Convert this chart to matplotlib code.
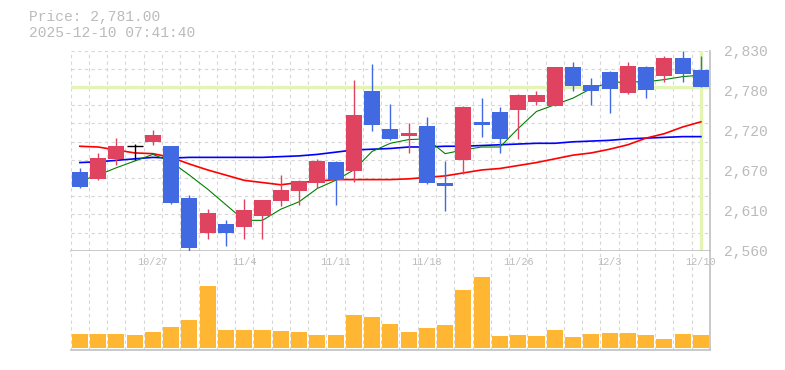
import numpy as np
import matplotlib.pyplot as plt
from matplotlib.transforms import blended_transform_factory

plt.rcParams["font.family"] = ["Liberation Mono", "DejaVu Sans Mono"]

# 日足データ (10/21 - 12/10)
dates = ["10/21", "10/22", "10/23", "10/24", "10/27", "10/28", "10/29", "10/30", "10/31",
         "11/4", "11/5", "11/6", "11/7", "11/10", "11/11", "11/12", "11/13", "11/14",
         "11/17", "11/18", "11/19", "11/20", "11/21", "11/25", "11/26", "11/27", "11/28",
         "12/1", "12/2", "12/3", "12/4", "12/5", "12/8", "12/9", "12/10"]

opens  = [2666, 2657, 2684, 2701, 2707, 2701, 2631, 2584, 2596, 2592, 2607, 2627,
          2641, 2652, 2680, 2668, 2776, 2724, 2715, 2728, 2651, 2682, 2734, 2747,
          2750, 2761, 2756, 2808, 2784, 2801, 2773, 2808, 2796, 2820, 2804]
highs  = [2672, 2692, 2712, 2704, 2723, 2701, 2635, 2616, 2601, 2630, 2629, 2662,
          2655, 2684, 2681, 2790, 2812, 2758, 2732, 2740, 2681, 2755, 2766, 2754,
          2772, 2776, 2808, 2815, 2793, 2802, 2815, 2809, 2823, 2830, 2823]
lows   = [2645, 2656, 2676, 2682, 2703, 2623, 2560, 2576, 2567, 2576, 2576, 2621,
          2622, 2644, 2622, 2653, 2721, 2709, 2692, 2650, 2613, 2664, 2714, 2692,
          2711, 2757, 2755, 2776, 2757, 2746, 2772, 2766, 2788, 2788, 2781]
closes = [2646, 2685, 2701, 2701, 2716, 2624, 2564, 2611, 2584, 2615, 2628, 2642,
          2654, 2681, 2655, 2743, 2730, 2711, 2719, 2651, 2648, 2754, 2730, 2711,
          2770, 2770, 2808, 2782, 2776, 2778, 2809, 2777, 2820, 2798, 2781]

# 移動平均
ma_short = [2654, 2662, 2672, 2681, 2690, 2680, 2662, 2643, 2622, 2601, 2601, 2616,
            2626, 2644, 2655, 2669, 2694, 2705, 2710, 2711, 2691, 2696, 2700, 2700,
            2725, 2748, 2757, 2766, 2779, 2787, 2788, 2788, 2791, 2795, 2797]
ma_mid   = [2701, 2700, 2696, 2692, 2691, 2686, 2677, 2669, 2662, 2655, 2652, 2649,
            2652, 2654, 2656, 2656, 2656, 2656, 2657, 2659, 2661, 2665, 2669, 2671,
            2675, 2679, 2684, 2689, 2692, 2697, 2703, 2712, 2718, 2727, 2734]
ma_long  = [2679, 2680, 2682, 2684, 2686, 2685, 2686, 2686, 2686, 2686, 2686, 2687,
            2688, 2690, 2693, 2696, 2697, 2698, 2700, 2700, 2701, 2701, 2702, 2703,
            2704, 2705, 2705, 2707, 2708, 2709, 2711, 2712, 2713, 2714, 2714]

# 出来高 (千株)
volume = [137, 137, 137, 127, 157, 207, 277, 617, 177, 177, 177, 167, 157, 127, 127,
          327, 307, 237, 157, 197, 227, 577, 707, 117, 127, 117, 177, 107, 137, 147,
          147, 127, 87, 137, 127]

last_price = 2781.00
timestamp = "2025-12-10 07:41:40"
price_range = (2560, 2830)
price_labels = ["2,560", "2,610", "2,670", "2,720", "2,780", "2,830"]

UP = "#e0435f"
DOWN = "#4169e1"
GRID = "#d6d6d6"
FRAME = "#c0c0c0"
TEXT = "#bbbbbb"
NOW = "#e3f4b4"


def draw_grid(ax, n, hlines=None):
    for k in range(n + 1):
        ax.axvline(k - 0.5, color=GRID, linestyle=(0, (3, 3)), linewidth=0.8, zorder=0)
    if hlines is not None:
        for v in hlines:
            ax.axhline(v, color=GRID, linestyle=(0, (3, 3)), linewidth=0.8, zorder=0)


def style_frame(ax):
    ax.spines["top"].set_visible(False)
    ax.spines["left"].set_visible(False)
    for s in ["bottom", "right"]:
        ax.spines[s].set_color(FRAME)
        ax.spines[s].set_linewidth(1.2)


def plot_price(ax, x):
    draw_grid(ax, len(x), np.linspace(*price_range, 12))

    ax.axhline(last_price, color=NOW, linewidth=2.4, zorder=1)
    ax.axvline(x[-1], color=NOW, linewidth=2.4, zorder=1)

    ax.plot(x, ma_long, color="#0000ff", linewidth=1.2, zorder=2)
    ax.plot(x, ma_mid, color="#ff0000", linewidth=1.2, zorder=2)
    ax.plot(x, ma_short, color="#008000", linewidth=0.8, zorder=2)

    o = np.array(opens)
    c = np.array(closes)
    colors = [UP if cc > oo else DOWN if cc < oo else "black" for oo, cc in zip(o, c)]
    ax.vlines(x, lows, highs, colors=colors, linewidth=1, zorder=3)
    ax.bar(x, np.abs(c - o), bottom=np.minimum(o, c), width=0.88, color=colors, zorder=3)
    doji = o == c
    ax.hlines(o[doji], x[doji] - 0.44, x[doji] + 0.44, colors="black", linewidth=1, zorder=3)

    ax.set_xlim(-0.5, len(x) - 0.5)
    ax.set_ylim(*price_range)
    ax.set_xticks([])
    ax.yaxis.tick_right()
    ax.set_yticks(np.linspace(*price_range, 6))
    ax.set_yticklabels(price_labels)
    ax.tick_params(axis="y", length=0, pad=10, labelcolor=TEXT, labelsize=10.5)
    style_frame(ax)


def plot_volume(ax, x):
    draw_grid(ax, len(x))
    ax.bar(x, volume, width=0.88, color="#ffb733", zorder=2)
    ax.set_xlim(-0.5, len(x) - 0.5)
    ax.set_ylim(-23, 970)
    ax.set_xticks([])
    ax.set_yticks([])
    style_frame(ax)

    trans = blended_transform_factory(ax.transData, ax.transAxes)
    for i in range(4, len(x), 5):
        ax.text(x[i], 0.886, dates[i], transform=trans, ha="center", va="center",
                fontsize=7.3, color=TEXT, zorder=4)


fig = plt.figure(figsize=(7.85, 3.70), dpi=100)
ax_price = fig.add_axes([70.7 / 785, 119.3 / 370, 639.3 / 785, 200 / 370])
ax_vol = fig.add_axes([70.7 / 785, 20 / 370, 639.3 / 785, 99.3 / 370])

x = np.arange(len(dates))
plot_price(ax_price, x)
plot_volume(ax_vol, x)

fig.text(29 / 785, 1 - 17 / 370, f"Price: {last_price:,.2f}", va="center",
         fontsize=10.5, color=TEXT)
fig.text(29 / 785, 1 - 33 / 370, timestamp, va="center", fontsize=10.5, color=TEXT)

fig.savefig("out.png", dpi=100)
